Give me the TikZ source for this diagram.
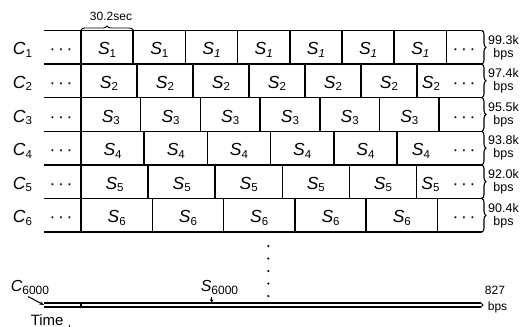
\documentclass[tikz,border=0pt]{standalone}
\usepackage{fontspec}
\setmainfont{Liberation Sans}
\usetikzlibrary{decorations.pathreplacing,arrows.meta}
\newcommand{\lblS}[2]{\textit{#1}\raisebox{-2.5pt}{\fontsize{11.5}{11.5}\selectfont #2}}
\newcommand{\lblSi}[2]{\textit{#1}\raisebox{-2.5pt}{\fontsize{11.5}{11.5}\selectfont\itshape #2}}
\newcommand{\lblB}[2]{\textit{#1}\raisebox{-3pt}{\fontsize{12}{12}\selectfont #2}}
\newcommand{\hdts}{·\hspace{2.6pt}·\hspace{2.6pt}·}
\begin{document}
\begin{tikzpicture}[x=1pt,y=-1pt,line width=1.5pt,
  big/.style={font=\fontsize{17.5}{19}\selectfont,inner sep=0pt,anchor=base},
  rlab/.style={font=\fontsize{12.5}{13}\selectfont,align=center,inner sep=0pt},
  rbrace/.style={decorate,decoration={brace,amplitude=4pt},line width=1.1pt},
  small/.style={font=\fontsize{12}{13}\selectfont,inner sep=0pt,anchor=base}]
\useasboundingbox (0,0) rectangle (523,327);
% horizontal lines
\foreach \y in {30.5,64.1,97.7,131.3,164.9,198.5,232.1}
  \draw (44,\y) -- (482,\y);
% right braces and labels
\foreach \t/\b/\v [count=\r] in {30.5/64.1/99.3k,64.1/97.7/97.4k,97.7/131.3/95.5k,131.3/164.9/93.8k,164.9/198.5/92.0k,198.5/232.1/90.4k}{
  \draw[rbrace] (482,\t) -- (482,\b);
  \node[rlab] (rate\r) at (503.5,{(\t+\b)/2}) {\v\\bps};
  \node[big] (ldots\r) at (61,{(\t+\b)/2+7.5}) {\hdts};
  \node[big] (rdots\r) at (464,{(\t+\b)/2+7.5}) {\hdts};
  \node[big] (c\r) at (22.5,{(\t+\b)/2+7.5}) {\lblS{C}{\r}};
}
% vertical dividers
\foreach \t/\b/\w/\n in {30.5/64.1/52.2/7,64.1/97.7/56/6,97.7/131.3/59.7/6,131.3/164.9/63.2/5,164.9/198.5/67.1/5,198.5/232.1/71.3/5}{
  \foreach \k in {0,...,\n}
    \draw ({81+\k*\w},\t) -- ({81+\k*\w},\b);
}
% S labels
\foreach \k in {0,1}
  \node[big] (s1-\k) at ({81+(\k+0.5)*52.2},54.8) {\lblS{S}{1}};
\foreach \k in {2,...,6}
  \node[big] (s1-\k) at ({81+(\k+0.5)*52.2},54.8) {\lblSi{S}{1}};
\foreach \k in {0,...,5}
  \node[big] (s2-\k) at ({81+(\k+0.5)*56},88.4) {\lblS{S}{2}};
\node[big] (s2-6) at (431,88.4) {\lblS{S}{2}};
\foreach \k in {0,...,5}
  \node[big] (s3-\k) at ({81+(\k+0.5)*59.7},122) {\lblS{S}{3}};
\foreach \k in {0,...,4}
  \node[big] (s4-\k) at ({81+(\k+0.5)*63.2},155.6) {\lblS{S}{4}};
\node[big] (s4-5) at (421,155.6) {\lblS{S}{4}};
\foreach \k in {0,...,4}
  \node[big] (s5-\k) at ({81+(\k+0.5)*67.1},189.2) {\lblS{S}{5}};
\node[big] (s5-5) at (430.5,189.2) {\lblS{S}{5}};
\foreach \k in {0,...,4}
  \node[big] (s6-\k) at ({81+(\k+0.5)*71.3},222.8) {\lblS{S}{6}};
% top brace
\draw[decorate,decoration={brace,amplitude=4pt},line width=0.9pt] (81,30) -- (133.2,30);
\node[small] (dur) at (111,20.7) {30.2sec};
% vertical dots
\foreach \y in {246,258.5,271,283.5,296}
  \fill (268.3,\y) circle (1.2pt);
% bottom line
\coordinate (bl) at (44,305);
\coordinate (bs) at (211.7,303);
\draw[line width=1.3pt] (44,303) -- (481,303);
\draw[line width=1.3pt] (44,307) -- (481,307);
\draw[line width=1.2pt] (81,303) -- (81,307);
\draw[decorate,decoration={brace,amplitude=2pt},line width=1pt] (481,303) -- (481,307);
\node[big,anchor=base west,font=\fontsize{16}{17}\selectfont] (c6000) at (10,291.5) {\lblB{C}{6000}};
\node[big,anchor=base west,font=\fontsize{16}{17}\selectfont] (s6000) at (200,291) {\lblB{S}{6000}};
\draw[line width=1pt,-{Stealth[length=4.5pt,width=3.5pt]}] (28,296.5) -- (bl);
\draw[line width=1pt,-{Stealth[length=4pt,width=3.5pt]}] (211.7,296.5) -- (bs);
\node[small] (n827) at (495,294) {827};
\node[small] (nbps) at (497.5,310) {bps};
\node[big,anchor=base west,font=\fontsize{15}{16}\selectfont] (time) at (30,325) {Time};
\draw[line width=1pt] (69,324.5) -- (69,327);
\end{tikzpicture}
\end{document}
